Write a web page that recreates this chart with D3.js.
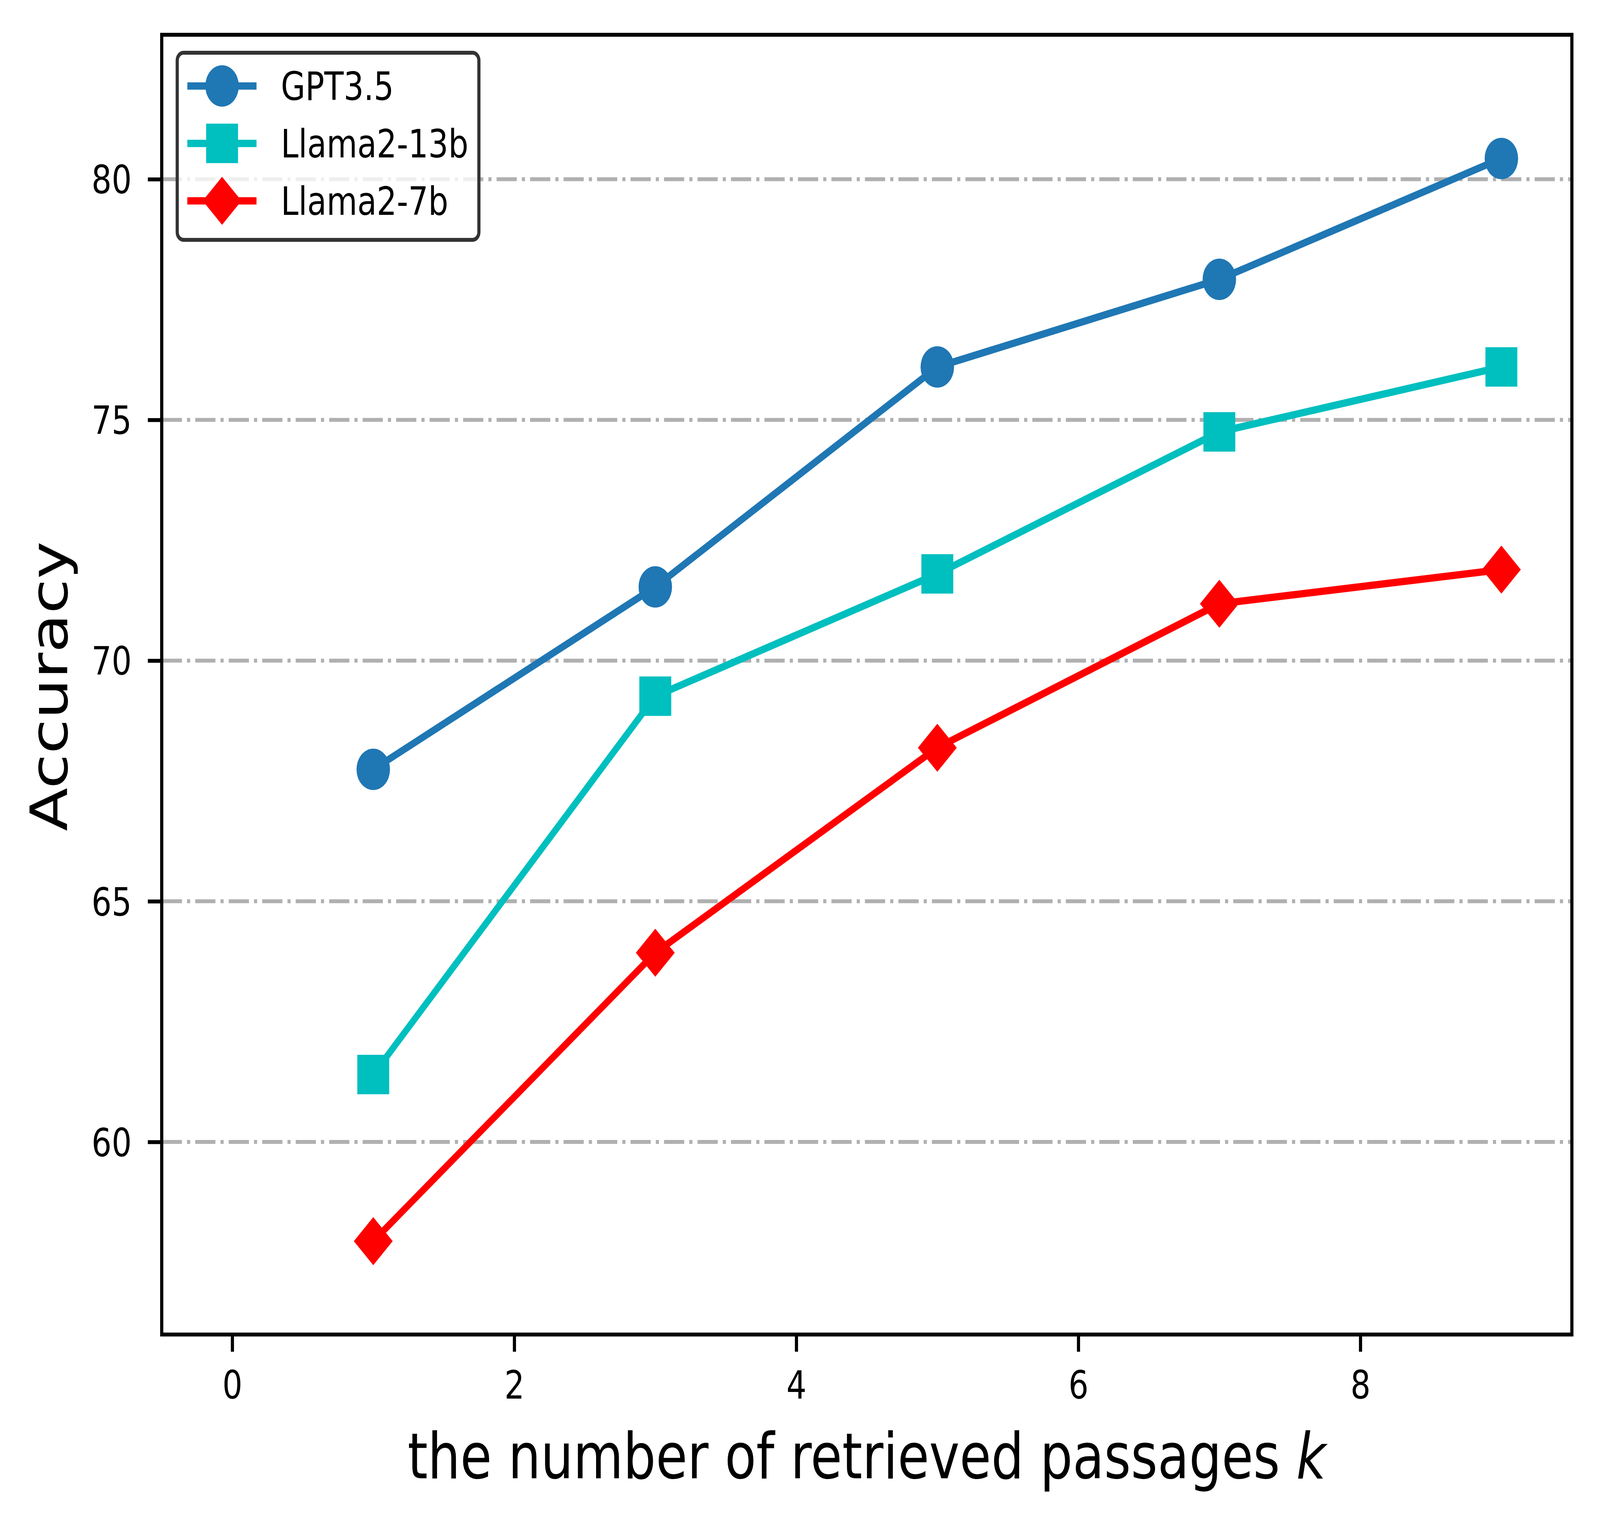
<!DOCTYPE html>
<html>
<head>
<meta charset="utf-8">
<script src="https://cdn.jsdelivr.net/npm/d3@7"></script>
<style>
  html, body { margin: 0; padding: 0; background: #fff; width: 100%; height: 100%; overflow: hidden; }
  svg { display: block; width: 100vw; height: 100vh; font-family: "DejaVu Sans", sans-serif; }
</style>
</head>
<body>
<svg id="chart" viewBox="0 0 5065 3901" preserveAspectRatio="none"></svg>
<script>
// ---- data ----
const kValues = [1, 3, 5, 7, 9];
const seriesNames = ["GPT3.5", "Llama2-13b", "Llama2-7b"];
const gpt35 = [67.74, 71.53, 76.10, 77.92, 80.43];
const llama13b = [61.40, 69.26, 71.80, 74.75, 76.10];
const llama7b = [57.94, 63.93, 68.19, 71.18, 71.89];
const xTicks = [0, 2, 4, 6, 8];
const yTicks = [60, 65, 70, 75, 80];
const xLabel = "the number of retrieved passages ";
const xLabelItalic = "k";
const yLabel = "Accuracy";

// ---- layout ----
const W = 5065, H = 3901;
const plot = { left: 512, right: 4976, top: 89, bottom: 3416 };
const colors = ["#1f77b4", "#00bfbf", "#ff0000"];
const markers = ["circle", "square", "diamond"];
const seriesData = [gpt35, llama13b, llama7b];

const svg = d3.select("#chart");
svg.append("rect").attr("width", W).attr("height", H).attr("fill", "#fff");

const x = d3.scaleLinear().domain([-0.5, 9.5]).range([plot.left, plot.right]);
const y = d3.scaleLinear().domain([56, 83]).range([plot.bottom, plot.top]);

// grid
svg.append("g").selectAll("line").data(yTicks).join("line")
  .attr("x1", plot.left).attr("x2", plot.right)
  .attr("y1", d => y(d)).attr("y2", d => y(d))
  .attr("stroke", "#b0b0b0").attr("stroke-width", 10)
  .attr("stroke-dasharray", "64,16,10,16");

// lines + markers
const line = d3.line().x((d, i) => x(kValues[i])).y(d => y(d));

function markerPath(type) {
  if (type === "circle") return d3.symbol(d3.symbolCircle, Math.PI * 53 * 53)();
  if (type === "square") return d3.symbol(d3.symbolSquare, 101 * 101)();
  const r = 61.5;
  return `M0,${-r}L${r},0L0,${r}L${-r},0Z`;
}

seriesData.forEach((vals, si) => {
  const g = svg.append("g");
  g.append("path").datum(vals)
    .attr("d", line)
    .attr("fill", "none")
    .attr("stroke", colors[si])
    .attr("stroke-width", 18.75)
    .attr("stroke-linejoin", "round");
  g.selectAll("path.m").data(vals).join("path")
    .attr("class", "m")
    .attr("d", markerPath(markers[si]))
    .attr("transform", (d, i) => `translate(${x(kValues[i])},${y(d)})`)
    .attr("fill", colors[si]);
});

// axes
const xAxis = d3.axisBottom(x).tickValues(xTicks).tickSize(44).tickPadding(49).tickFormat(d3.format("d"));
const yAxis = d3.axisLeft(y).tickValues(yTicks).tickSize(44).tickPadding(51).tickFormat(d3.format("d"));

const gx = svg.append("g").attr("transform", `translate(0,${plot.bottom})`).call(xAxis);
const gy = svg.append("g").attr("transform", `translate(${plot.left},0)`).call(yAxis);
[gx, gy].forEach(g => {
  g.select(".domain").remove();
  g.selectAll(".tick line").attr("stroke", "#000").attr("stroke-width", 10);
  g.selectAll(".tick text").attr("fill", "#000")
    .attr("font-size", 100).attr("font-family", "DejaVu Sans");
});
gy.selectAll(".tick text").attr("dy", "0.36em");

// spines
svg.append("rect")
  .attr("x", plot.left).attr("y", plot.top)
  .attr("width", plot.right - plot.left).attr("height", plot.bottom - plot.top)
  .attr("fill", "none").attr("stroke", "#000").attr("stroke-width", 10);

// axis labels
const xl = svg.append("text")
  .attr("x", (plot.left + plot.right) / 2).attr("y", 3784)
  .attr("text-anchor", "middle").attr("font-size", 162.5).attr("fill", "#000");
xl.append("tspan").text(xLabel);
xl.append("tspan").attr("font-style", "italic").text(xLabelItalic);

svg.append("text")
  .attr("transform", `translate(213,${(plot.top + plot.bottom) / 2 + 4}) rotate(-90)`)
  .attr("text-anchor", "middle").attr("font-size", 162.5).attr("fill", "#000")
  .text(yLabel);

// legend
const leg = svg.append("g");
leg.append("rect")
  .attr("x", 561).attr("y", 135).attr("width", 955).attr("height", 479)
  .attr("rx", 20).attr("ry", 20)
  .attr("fill", "#fff").attr("fill-opacity", 0.8)
  .attr("stroke", "#333").attr("stroke-width", 10);

const rowY = [220, 367, 514];
seriesNames.forEach((name, si) => {
  const cy = rowY[si];
  leg.append("line").attr("x1", 593).attr("x2", 812).attr("y1", cy).attr("y2", cy)
    .attr("stroke", colors[si]).attr("stroke-width", 18.75);
  leg.append("path").attr("d", markerPath(markers[si]))
    .attr("transform", `translate(703,${cy})`).attr("fill", colors[si]);
  leg.append("text").attr("x", 889).attr("y", cy + 36)
    .attr("font-size", 100).attr("fill", "#000").text(name);
});
</script>
</body>
</html>
